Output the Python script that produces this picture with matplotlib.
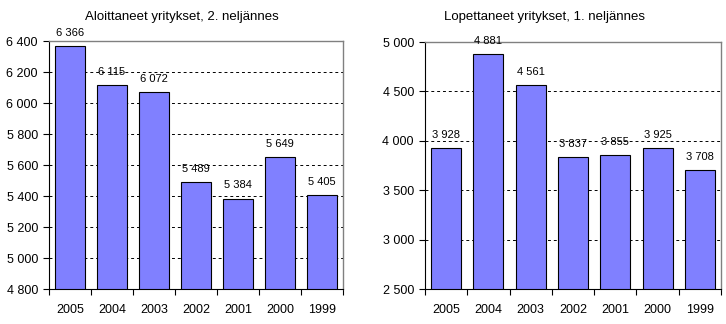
import matplotlib
matplotlib.use("Agg")
import matplotlib.pyplot as plt
from matplotlib.ticker import FuncFormatter, FixedLocator

plt.rcParams['font.family'] = ['Liberation Sans', 'DejaVu Sans']

years = ["2005", "2004", "2003", "2002", "2001", "2000", "1999"]
started = [6366, 6115, 6072, 5489, 5384, 5649, 5405]
ended = [3928, 4881, 4561, 3837, 3855, 3925, 3708]

title_left = "Aloittaneet yritykset, 2. neljännes"
title_right = "Lopettaneet yritykset, 1. neljännes"

bar_color = "#8080FF"


def fmt(v, pos=None):
    return "{:,}".format(int(round(v))).replace(",", " ")


fig = plt.figure(figsize=(7.26, 3.24), dpi=100)

panels = [
    ([0.0675, 0.108, 0.405, 0.765], started, (4800, 6400), 200, title_left, 0.25),
    ([0.5854, 0.108, 0.4077, 0.762], ended, (2500, 5000), 500, title_right, 0.75),
]

for rect, values, (lo, hi), step, title, tx in panels:
    ax = fig.add_axes(rect)
    x = list(range(len(years)))
    ax.bar(x, [v - lo for v in values], bottom=lo, width=0.71,
           color=bar_color, edgecolor="black", linewidth=0.8, zorder=3)
    ax.set_xlim(-0.5, len(years) - 0.5)
    ax.set_ylim(lo, hi)

    yt = list(range(lo, hi + 1, step))
    ax.set_yticks(yt)
    ax.yaxis.set_major_formatter(FuncFormatter(fmt))
    for y in yt[1:-1]:
        ax.axhline(y, color="black", linestyle=(0, (3, 3)), linewidth=0.7, zorder=1)

    ax.set_xticks(x)
    ax.set_xticklabels(years)
    ax.xaxis.set_minor_locator(FixedLocator([i - 0.5 for i in range(len(years) + 1)]))
    ax.tick_params(axis='x', which='major', length=0, pad=11, labelsize=9)
    ax.tick_params(axis='x', which='minor', length=4, width=0.8, direction='out')
    ax.tick_params(axis='y', which='major', length=4, width=0.8, direction='out',
                   pad=4, labelsize=9)

    for s in ['top', 'right']:
        ax.spines[s].set_color("#808080")
        ax.spines[s].set_linewidth(1.0)
    for s in ['left', 'bottom']:
        ax.spines[s].set_color("black")
        ax.spines[s].set_linewidth(0.8)

    for xi, v in zip(x, values):
        ax.annotate(fmt(v), (xi, v), xytext=(0, 9.5), textcoords="offset points",
                    ha="center", va="center", fontsize=8, zorder=5)

    fig.text(tx, 0.947, title, ha="center", va="center", fontsize=9.5)

fig.savefig("out.png", dpi=100)
